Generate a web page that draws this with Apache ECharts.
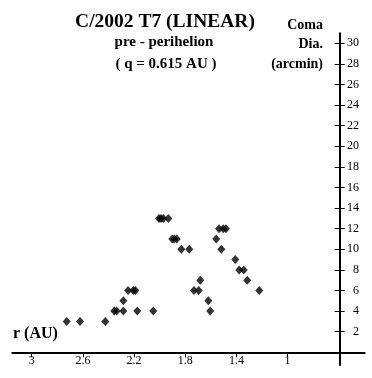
<!DOCTYPE html>
<html>
<head>
<meta charset="utf-8">
<script src="https://cdn.jsdelivr.net/npm/echarts@6/dist/echarts.min.js"></script>
<style>
html,body{margin:0;padding:0;background:#fff;}
#c{width:372px;height:378px;}
</style>
</head>
<body>
<div id="c"></div>
<script>
// Heliocentric distance r (AU) and coma diameter (arcmin)
var rAU = [2.726, 2.622, 2.424, 2.354, 2.335, 2.283, 2.283, 2.246, 2.205, 2.189, 2.174, 2.049,
  2.004, 1.988, 1.970, 1.931, 1.900, 1.884, 1.865, 1.829, 1.767, 1.730, 1.693, 1.681,
  1.618, 1.603, 1.556, 1.534, 1.516, 1.501, 1.480, 1.407, 1.376, 1.341, 1.313, 1.219];
var comaDia = [3, 3, 3, 4, 4, 4, 5, 6, 6, 6, 4, 4,
  13, 13, 13, 13, 11, 11, 11, 10, 10, 6, 6, 7,
  5, 4, 11, 12, 10, 12, 12, 9, 8, 8, 7, 6];
var xTicks = [1, 1.4, 1.8, 2.2, 2.6, 3];
var yTicks = [2, 4, 6, 8, 10, 12, 14, 16, 18, 20, 22, 24, 26, 28, 30];
var titleText = 'C/2002 T7 (LINEAR)';
var subText1 = 'pre - perihelion';
var subText2 = '( q = 0.615 AU )';
var yNameLines = ['Coma', 'Dia.', '(arcmin)'];
var xName = 'r (AU)';
var xMin = 0.394, xMax = 3.152, yCross = 0.59;
var yMin = -1.23, yMax = 30.97;

var serif = '"Liberation Serif", "Times New Roman", serif';
var pts = rAU.map(function (r, i) { return [r, comaDia[i]]; });

var chart = echarts.init(document.getElementById('c'), null, {renderer: 'canvas'});
chart.setOption({
  backgroundColor: '#fff',
  animation: false,
  grid: [
    {left: 12.3, right: 7.3, top: 33.3, bottom: 13, containLabel: false, outerBoundsMode: 'none'},
    {left: 12.3, right: 32, top: 33.3, bottom: 25.7, containLabel: false, outerBoundsMode: 'none'}
  ],
  xAxis: [
    {
      gridIndex: 0, type: 'value', min: xMin, max: xMax, inverse: true,
      axisLine: {show: true, onZero: true, onZeroAxisIndex: 0, lineStyle: {color: '#000', width: 2}},
      axisTick: {show: true, length: 4, inside: false, customValues: xTicks, lineStyle: {color: '#000', width: 1}},
      axisLabel: {show: false},
      splitLine: {show: false}
    },
    {
      gridIndex: 0, type: 'value', min: xMin, max: xMax, inverse: true,
      axisLine: {show: false, onZero: true, onZeroAxisIndex: 0},
      axisTick: {show: true, length: 5, inside: true, customValues: xTicks, lineStyle: {color: '#000', width: 1}},
      axisLabel: {show: false},
      splitLine: {show: false}
    },
    {
      gridIndex: 0, type: 'value', show: false, min: xMin - yCross, max: xMax - yCross, inverse: true,
      axisLine: {show: false, onZero: false},
      splitLine: {show: false}
    },
    {
      gridIndex: 1, type: 'value', position: 'bottom', min: yCross, max: xMax, inverse: true,
      axisLine: {show: false, onZero: false},
      axisTick: {show: false},
      axisLabel: {show: true, customValues: xTicks, margin: 3, color: '#000', fontSize: 12, fontFamily: serif},
      splitLine: {show: false}
    }
  ],
  yAxis: [
    {
      gridIndex: 0, type: 'value', position: 'right', min: yMin, max: yMax,
      axisLine: {show: true, onZero: true, onZeroAxisIndex: 2, lineStyle: {color: '#000', width: 2}},
      axisTick: {show: true, length: 5, inside: false, customValues: yTicks, lineStyle: {color: '#000', width: 1}},
      axisLabel: {show: false},
      splitLine: {show: false}
    },
    {
      gridIndex: 0, type: 'value', position: 'right', min: yMin, max: yMax,
      axisLine: {show: false, onZero: true, onZeroAxisIndex: 2},
      axisTick: {show: true, length: 5, inside: true, customValues: yTicks, lineStyle: {color: '#000', width: 1}},
      axisLabel: {show: false},
      splitLine: {show: false}
    },
    {
      gridIndex: 1, type: 'value', position: 'right', min: 0, max: yMax,
      axisLine: {show: false, onZero: false},
      axisTick: {show: false},
      axisLabel: {show: true, customValues: yTicks, margin: 19, align: 'right', color: '#000', fontSize: 12, fontFamily: serif},
      splitLine: {show: false}
    }
  ],
  graphic: [
    {type: 'text', style: {text: titleText, x: 165, y: 21.5, textAlign: 'center', textVerticalAlign: 'middle', font: 'bold 19.5px ' + serif, fill: '#000'}},
    {type: 'text', style: {text: subText1, x: 164, y: 42, textAlign: 'center', textVerticalAlign: 'middle', font: 'bold 15px ' + serif, fill: '#000'}},
    {type: 'text', style: {text: subText2, x: 166, y: 64.5, textAlign: 'center', textVerticalAlign: 'middle', font: 'bold 15px ' + serif, fill: '#000'}},
    {type: 'text', style: {text: yNameLines[0], x: 323, y: 25.5, textAlign: 'right', textVerticalAlign: 'middle', font: 'bold 14px ' + serif, fill: '#000'}},
    {type: 'text', style: {text: yNameLines[1], x: 323, y: 44.5, textAlign: 'right', textVerticalAlign: 'middle', font: 'bold 14px ' + serif, fill: '#000'}},
    {type: 'text', style: {text: yNameLines[2], x: 323, y: 64.5, textAlign: 'right', textVerticalAlign: 'middle', font: 'bold 14px ' + serif, fill: '#000'}},
    {type: 'text', style: {text: xName, x: 13, y: 334, textAlign: 'left', textVerticalAlign: 'middle', font: 'bold 16px ' + serif, fill: '#000'}}
  ],
  series: [{
    type: 'scatter', xAxisIndex: 0, yAxisIndex: 0,
    symbol: 'diamond', symbolSize: [8, 9],
    itemStyle: {color: '#000'},
    data: pts
  }]
});
</script>
</body>
</html>
